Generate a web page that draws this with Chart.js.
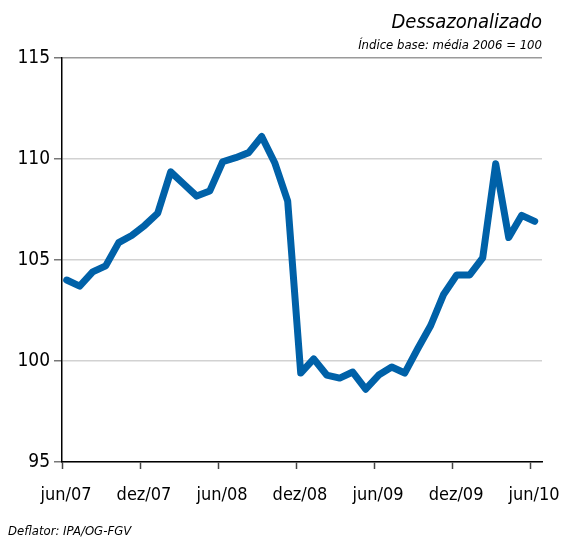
<!DOCTYPE html>
<html>
<head>
<meta charset="utf-8">
<script src="https://cdn.jsdelivr.net/npm/chart.js@4.4.1/dist/chart.umd.min.js"></script>
<style>
html, body { margin: 0; padding: 0; background: #fff; }
#wrap { width: 575px; height: 538px; }
</style>
</head>
<body>
<div id="wrap"><canvas id="chart" width="575" height="538"></canvas></div>
<script>
/* =========================
   DATA
========================= */

const months = [
    "jun/07","jul/07","ago/07","set/07","out/07","nov/07","dez/07",
    "jan/08","fev/08","mar/08","abr/08","mai/08","jun/08","jul/08",
    "ago/08","set/08","out/08","nov/08","dez/08","jan/09","fev/09",
    "mar/09","abr/09","mai/09","jun/09","jul/09","ago/09","set/09",
    "out/09","nov/09","dez/09","jan/10","fev/10","mar/10","abr/10",
    "mai/10","jun/10"
];

const indexValues = [
    104.0, 103.7, 104.4, 104.7, 105.85, 106.2, 106.7,
    107.3, 109.35, 108.75, 108.15, 108.4, 109.85, 110.05,
    110.3, 111.1, 109.8, 107.9, 99.4, 100.1, 99.3,
    99.15, 99.45, 98.6, 99.3, 99.7, 99.4, 100.6,
    101.75, 103.3, 104.25, 104.25, 105.1, 109.75, 106.1,
    107.2, 106.9
];

const tickLabels = ["jun/07","dez/07","jun/08","dez/08","jun/09","dez/09","jun/10"];
const yTicks = [95, 100, 105, 110, 115];

const titleText = "Dessazonalizado";
const subtitleText = "Índice base: média 2006 = 100";
const footerText = "Deflator: IPA/OG-FGV";

/* =========================
   CHART
========================= */

const FONT = "'Liberation Sans Narrow', 'DejaVu Sans Condensed', 'Liberation Sans', sans-serif";
const xStart = -0.36;

const footerPlugin = {
    id: "footerNote",
    afterDraw(chart){
        const ctx = chart.ctx;
        ctx.save();
        ctx.font = "italic 13px " + FONT;
        ctx.fillStyle = "#000";
        ctx.textAlign = "left";
        ctx.textBaseline = "alphabetic";
        ctx.fillText(footerText, 8, 535);
        ctx.restore();
    }
};

new Chart(document.getElementById("chart"), {

    type: "line",

    data: {
        datasets: [{
            label: "Índice",
            data: indexValues.map((v, i) => ({ x: i, y: v })),
            borderColor: "#0061a8",
            borderWidth: 7,
            pointRadius: 0,
            tension: 0,
            borderJoinStyle: "round",
            borderCapStyle: "round",
            clip: 8
        }]
    },

    options: {
        responsive: false,
        animation: false,
        layout: {
            padding: { top: 11, left: 6, right: 33, bottom: 26 }
        },
        plugins: {
            legend: { display: false },
            tooltip: { enabled: false },
            title: {
                display: true,
                text: titleText,
                align: "end",
                color: "#000",
                font: { family: FONT, size: 20, style: "italic", weight: "normal" },
                padding: { top: 0, bottom: 3 }
            },
            subtitle: {
                display: true,
                text: subtitleText,
                align: "end",
                color: "#000",
                font: { family: FONT, size: 13, style: "italic", weight: "normal" },
                padding: { top: 0, bottom: 4 }
            }
        },
        scales: {
            x: {
                type: "linear",
                min: xStart,
                max: 36.56,
                afterBuildTicks: scale => {
                    scale.ticks = tickLabels.map((t, k) => ({ value: xStart + 6 * k }));
                },
                afterFit: scale => { scale.height = 50; },
                grid: {
                    drawOnChartArea: false,
                    tickLength: 7,
                    tickColor: "#444",
                    tickWidth: 1.5
                },
                border: { color: "#000", width: 1.5 },
                ticks: {
                    autoSkip: false,
                    maxRotation: 0,
                    padding: 16,
                    labelOffset: 4,
                    color: "#000",
                    font: { family: FONT, size: 18 },
                    callback: (v, i) => tickLabels[i]
                }
            },
            y: {
                min: 95,
                max: 115,
                afterBuildTicks: scale => {
                    scale.ticks = yTicks.map(v => ({ value: v }));
                },
                afterFit: scale => { scale.width = 56; },
                grid: {
                    color: c => c.tick && c.tick.value === 115 ? "#9a9a9a" : "#d2d2d2",
                    lineWidth: 1.5,
                    tickLength: 8,
                    tickColor: "#777"
                },
                border: { color: "#000", width: 1.5 },
                ticks: {
                    padding: 4,
                    color: "#000",
                    font: { family: FONT, size: 19 }
                }
            }
        }
    },

    plugins: [footerPlugin]

});
</script>
</body>
</html>
